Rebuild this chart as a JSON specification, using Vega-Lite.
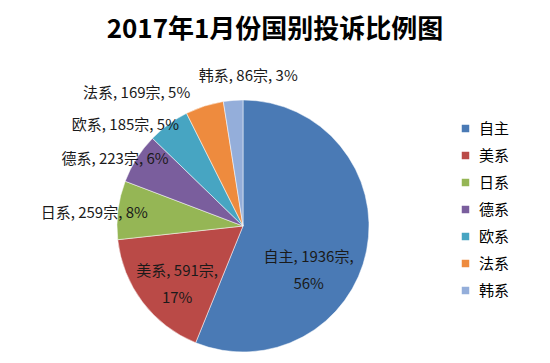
{
  "$schema": "https://vega.github.io/schema/vega-lite/v6.json",
  "autosize": {"type": "none"},
  "width": 486,
  "height": 252,
  "padding": {"left": 0, "top": 100, "right": 64, "bottom": 11},
  "background": "white",
  "title": {
    "text": "2017年1月份国别投诉比例图",
    "font": "Noto Sans CJK SC",
    "fontSize": 26,
    "fontWeight": "bold",
    "color": "#000000",
    "anchor": "middle",
    "dx": 32,
    "offset": 26
  },
  "config": {"view": {"stroke": null}},
  "data": {
    "values": [
      {"idx": 1, "name": "自主", "count": 1936, "pct": 56},
      {"idx": 2, "name": "美系", "count": 591, "pct": 17},
      {"idx": 3, "name": "日系", "count": 259, "pct": 8},
      {"idx": 4, "name": "德系", "count": 223, "pct": 6},
      {"idx": 5, "name": "欧系", "count": 185, "pct": 5},
      {"idx": 6, "name": "法系", "count": 169, "pct": 5},
      {"idx": 7, "name": "韩系", "count": 86, "pct": 3}
    ]
  },
  "transform": [
    {"calculate": "datum.name + ', ' + datum.count + '宗, ' + datum.pct + '%'", "as": "label"},
    {"calculate": "datum.name + ', ' + datum.count + '宗,\\n' + datum.pct + '%'", "as": "label2"}
  ],
  "encoding": {
    "theta": {"field": "count", "type": "quantitative", "stack": true},
    "order": {"field": "idx", "type": "quantitative"}
  },
  "layer": [
    {
      "mark": {"type": "arc", "radius": 126, "stroke": "#ffffff", "strokeWidth": 0.5},
      "encoding": {
        "color": {
          "field": "name",
          "type": "nominal",
          "sort": ["自主", "美系", "日系", "德系", "欧系", "法系", "韩系"],
          "scale": {
            "domain": ["自主", "美系", "日系", "德系", "欧系", "法系", "韩系"],
            "range": ["#4A7AB5", "#BA4A47", "#95B655", "#7A5E9D", "#47A5C2", "#EE8B3E", "#94AEDA"]
          },
          "legend": {
            "orient": "none",
            "legendX": 458,
            "legendY": 21,
            "title": null,
            "symbolType": "square",
            "symbolSize": 56,
            "symbolStrokeWidth": 0,
            "labelFontSize": 15,
            "labelFont": "Noto Sans CJK SC",
            "labelColor": "#000000",
            "rowPadding": 11,
            "labelOffset": 6,
            "padding": 0
          }
        }
      }
    },
    {
      "mark": {"type": "text", "radius": 75, "dx": -8, "dy": 17, "lineBreak": "\n", "lineHeight": 27, "fontSize": 15, "font": "Noto Sans CJK SC", "color": "#1a1a1a"},
      "encoding": {
        "detail": {"field": "name", "type": "nominal"},
        "text": {"condition": {"test": "datum.name === '自主'", "field": "label2", "type": "nominal"}, "value": ""}
      }
    },
    {
      "mark": {"type": "text", "radius": 75, "dx": -6, "dy": 0, "lineBreak": "\n", "lineHeight": 27, "fontSize": 15, "font": "Noto Sans CJK SC", "color": "#1a1a1a"},
      "encoding": {
        "detail": {"field": "name", "type": "nominal"},
        "text": {"condition": {"test": "datum.name === '美系'", "field": "label2", "type": "nominal"}, "value": ""}
      }
    },
    {
      "mark": {"type": "text", "radius": 105, "dx": 9, "dy": 0, "align": "right", "fontSize": 15, "font": "Noto Sans CJK SC", "color": "#1a1a1a"},
      "encoding": {
        "detail": {"field": "name", "type": "nominal"},
        "text": {"condition": {"test": "datum.name === '日系'", "field": "label", "type": "nominal"}, "value": ""}
      }
    },
    {
      "mark": {"type": "text", "radius": 100, "dx": 10, "dy": -13, "align": "right", "fontSize": 15, "font": "Noto Sans CJK SC", "color": "#1a1a1a"},
      "encoding": {
        "detail": {"field": "name", "type": "nominal"},
        "text": {"condition": {"test": "datum.name === '德系'", "field": "label", "type": "nominal"}, "value": ""}
      }
    },
    {
      "mark": {"type": "text", "radius": 120, "dx": 7, "dy": -4, "align": "right", "fontSize": 15, "font": "Noto Sans CJK SC", "color": "#1a1a1a"},
      "encoding": {
        "detail": {"field": "name", "type": "nominal"},
        "text": {"condition": {"test": "datum.name === '欧系'", "field": "label", "type": "nominal"}, "value": ""}
      }
    },
    {
      "mark": {"type": "text", "radius": 140, "dx": -10, "align": "right", "fontSize": 15, "font": "Noto Sans CJK SC", "color": "#1a1a1a"},
      "encoding": {
        "detail": {"field": "name", "type": "nominal"},
        "text": {"condition": {"test": "datum.name === '法系'", "field": "label", "type": "nominal"}, "value": ""}
      }
    },
    {
      "mark": {"type": "text", "radius": 150, "dx": 17, "align": "center", "fontSize": 15, "font": "Noto Sans CJK SC", "color": "#1a1a1a"},
      "encoding": {
        "detail": {"field": "name", "type": "nominal"},
        "text": {"condition": {"test": "datum.name === '韩系'", "field": "label", "type": "nominal"}, "value": ""}
      }
    }
  ]
}
